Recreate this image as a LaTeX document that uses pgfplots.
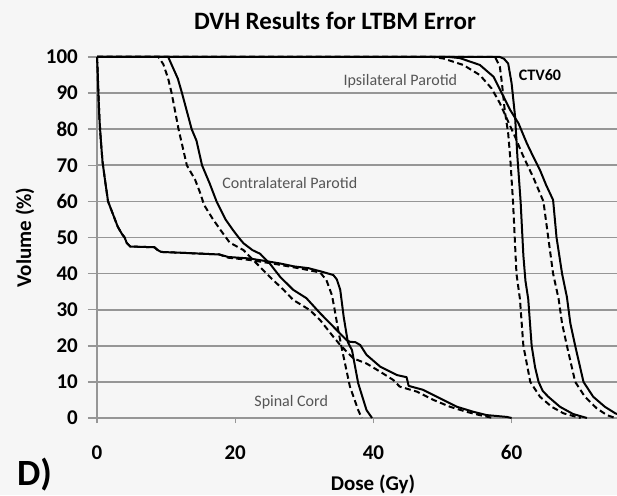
\documentclass[border=0pt]{standalone}
\usepackage{pgfplots}
\pgfplotsset{compat=1.18}
\usepackage{fontspec}
\setmainfont{Carlito}
\definecolor{bg}{RGB}{246,246,246}
\definecolor{gridc}{RGB}{150,150,150}
\definecolor{lblc}{RGB}{85,85,85}
\tikzset{
  solidc/.style={black, line width=2pt, line join=round, mark=none},
  dashc/.style={black, line width=2pt, line join=round, mark=none, dash pattern=on 6pt off 3.5pt},
}
\begin{document}
\begin{tikzpicture}
\fill[bg] (-97pt,-77pt) rectangle (520pt,418pt);
\useasboundingbox (-97pt,-77pt) rectangle (520pt,418pt);
\begin{axis}[
  at={(0pt,0pt)}, anchor=south west,
  scale only axis, width=520pt, height=361pt,
  xmin=0, xmax=75.25, ymin=0, ymax=100,
  axis lines*=left,
  axis line style={gridc, line width=1.6pt},
  xtick={0,20,40,60}, ytick={0,10,...,100},
  ymajorgrids, grid style={gridc, line width=1.6pt},
  tick style={gridc, line width=1.4pt},
  tick align=outside, major tick length=9pt,
  xtick style={/pgfplots/major tick length=5pt},
  ticklabel style={font=\bfseries\fontsize{21}{21}\selectfont},
  /pgf/number format/assume math mode=true,
  yticklabel style={anchor=east, inner sep=0pt, xshift=-10pt},
  xticklabel style={anchor=base, inner sep=0pt, yshift=-32pt},
  clip=false,
]
% Spinal cord
\addplot[solidc] coordinates {(0,100) (0.1,96) (0.2,90) (0.35,83) (0.55,77) (0.8,71) (1.15,66) (1.6,60) (2.3,56.5) (3.0,53) (3.6,51) (4.0,50) (4.3,48.5) (4.8,47.5) (8.3,47.3) (8.8,46.5) (9.3,46) (13,45.7) (17.7,45.3) (19,44.6) (22,44.2) (24,43.6) (26.5,42.8) (28.5,42) (30.6,41.5) (32.6,40.5) (34.2,39.6) (34.7,38.4) (35.2,35.5) (35.7,28) (36.3,21) (36.9,18.8) (37.8,9.6) (39,2.2) (39.8,0)};
\addplot[dashc] coordinates {(0,100) (0.1,96) (0.2,90) (0.35,83) (0.55,77) (0.8,71) (1.15,66) (1.6,60) (2.3,56.5) (3.0,53) (3.6,51) (4.0,50) (4.3,48.5) (4.8,47.5) (8.3,47.3) (8.8,46.5) (9.3,46) (13,45.7) (17.7,45.3) (19,44.4) (22,43.8) (26,42.6) (30,41.2) (32.3,40.3) (33.2,38.2) (34,34) (34.4,29.9) (34.9,24.4) (35.4,19.5) (36.6,8.7) (37.8,2.2) (38.3,0)};
% Contralateral parotid
\addplot[solidc] coordinates {(0,100) (10.3,100) (11,97) (11.7,94) (12.3,90) (13,85) (13.7,80) (14.4,76.8) (15.2,70) (16.3,65) (17.3,60) (18.6,55) (19.7,52) (20.5,50) (21.2,48.4) (22.5,46.5) (23.6,45.5) (25,42.8) (26.5,39.1) (28.4,35.5) (30.3,33.2) (32.3,29) (34.2,25.3) (36.1,21.6) (36.6,21.1) (37.4,21) (38.1,20.2) (39,17.5) (41,14.2) (43.4,11.9) (44.8,11.3) (45.1,8.9) (47.2,7.8) (49.6,5.5) (52.1,3.1) (54.5,1.7) (56.4,0.8) (59.3,0.3) (60,0)};
\addplot[dashc] coordinates {(0,100) (8.9,100) (9.6,98) (10.3,94) (10.8,90) (11.8,80) (13,70) (14.2,66) (14.9,62.5) (15.5,59) (16.7,55.3) (17.9,52) (19.2,48.6) (21.2,46.5) (23.1,42.8) (25,39.1) (27,35.5) (28.4,32.7) (30.8,29.9) (32.3,27.1) (34.2,22.5) (35.2,20.2) (37.1,16.5) (39,15.1) (41,12.8) (42.9,10.5) (43.8,8.7) (46.3,7.3) (48.7,5) (51.1,3.1) (53.5,1.7) (55.4,0.8) (57.3,0)};
% CTV60
\addplot[solidc] coordinates {(0,100) (58.3,100) (58.9,99.5) (59.5,98.2) (60,92.7) (60.5,83.5) (60.85,72) (61.3,60) (61.7,45) (62,38) (62.4,33) (62.9,20) (63.4,14) (63.9,10) (64.5,7.5) (65.3,5.9) (67,3.1) (68.9,1.1) (70.9,0)};
\addplot[dashc] coordinates {(0,100) (57.6,100) (58.3,97.3) (58.6,92.7) (59,85.3) (59.5,78.9) (59.8,72) (60.2,60) (60.7,40) (61.2,33) (61.7,20) (62.7,10) (64.1,5.9) (65.8,3.1) (67.5,1.3) (69.4,0.3) (70,0)};
% Ipsilateral parotid
\addplot[solidc] coordinates {(0,100) (51,100) (52.5,99.7) (55.4,97.8) (57.4,94.5) (58.6,89.9) (59.8,85.3) (61,81.6) (62.2,76.1) (63.1,72.5) (64.1,68.7) (65,64.5) (66,60.4) (66.5,50) (67.3,40) (68,33.5) (68.5,26.2) (69.2,20) (70.4,10) (71.8,5.9) (73.5,3.1) (75,1.3) (76.5,0.3) (77,0)};
\addplot[dashc] coordinates {(0,100) (48.5,100) (50.1,99.6) (53,97.8) (55.4,95) (57.1,91.3) (58.3,87.2) (59.5,82.1) (60.5,77.9) (61.5,73.3) (62.3,70) (63.1,66.8) (64.6,60) (65.3,50) (66,40) (66.8,33) (67.3,26.2) (68,20) (69.2,10) (70.6,5.9) (72.3,2.7) (73.8,0.8) (75,0)};
% labels
\node[lblc, font=\fontsize{16}{16}\selectfont] at (axis cs:43.9,93.4) {Ipsilateral Parotid};
\node[lblc, font=\fontsize{16}{16}\selectfont] at (axis cs:27.9,65.0) {Contralateral Parotid};
\node[lblc, font=\fontsize{16}{16}\selectfont] at (axis cs:28.1,4.5) {Spinal Cord};
\node[black, font=\bfseries\fontsize{16}{16}\selectfont] at (axis cs:64.1,95.0) {CTV60};
\end{axis}
\node[anchor=base, font=\bfseries\fontsize{25}{25}\selectfont] at (238pt,388pt) {DVH Results for LTBM Error};
\node[rotate=90, font=\bfseries\fontsize{21}{21}\selectfont] at (-72pt,180.5pt) {Volume (\%)};
\node[anchor=base, font=\bfseries\fontsize{21}{21}\selectfont] at (276pt,-72pt) {Dose (Gy)};
\node[anchor=base, font=\bfseries\fontsize{37}{37}\selectfont] at (-62.5pt,-67.5pt) {D)};
\end{tikzpicture}
\end{document}
